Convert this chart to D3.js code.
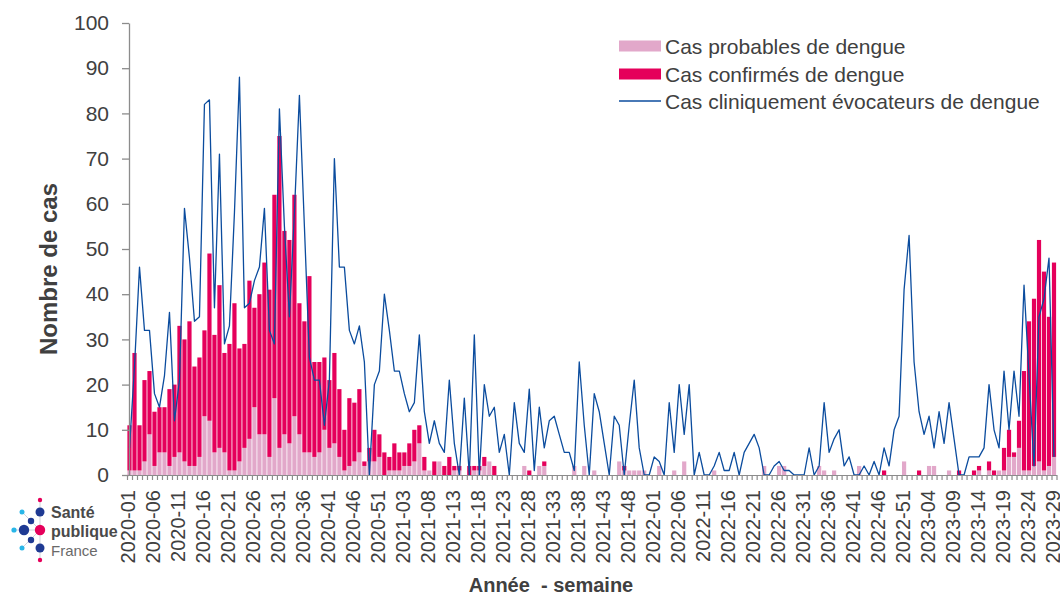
<!DOCTYPE html>
<html>
<head>
<meta charset="utf-8">
<script src="https://cdn.jsdelivr.net/npm/d3@7"></script>
<style>
  body { margin: 0; background: #fff; }
  svg { font-family: "Liberation Sans", Arial, sans-serif; }
</style>
</head>
<body>
<div id="chart"></div>
<script>
// weeks per year shown (ISO weeks)
const annees = [2020, 2021, 2022, 2023];
const nbSemaines = [53, 52, 52, 29];

// Cas probables de dengue (pink, bottom of stack)
const probables = [
  1, 1, 1, 3, 9, 2, 5, 5, 2, 4,
  5, 3, 2, 2, 4, 13, 12, 5, 6, 5,
  1, 1, 3, 6, 8, 15, 9, 9, 4, 17,
  6, 9, 7, 13, 9, 5, 5, 4, 5, 10,
  6, 7, 4, 1, 2, 3, 5, 2, 3, 3,
  4, 0, 1, 1, 1, 2, 2, 3, 7, 1,
  1, 0, 3, 0, 0, 1, 1, 0, 0, 1,
  1, 2, 3, 0, 0, 0, 0, 0, 0, 2,
  0, 0, 2, 2, 0, 0, 0, 0, 0, 2,
  0, 2, 0, 1, 0, 0, 0, 0, 3, 1,
  1, 1, 1, 1, 0, 0, 2, 0, 0, 1,
  0, 3, 0, 0, 0, 0, 0, 1, 0, 0,
  0, 0, 0, 0, 0, 0, 0, 2, 0, 0,
  2, 2, 0, 0, 0, 0, 0, 0, 2, 1,
  0, 1, 0, 0, 0, 0, 2, 0, 0, 0,
  0, 0, 0, 0, 0, 3, 0, 0, 0, 0,
  2, 2, 0, 0, 1, 0, 0, 0, 0, 0,
  1, 0, 1, 0, 1, 1, 4, 4, 6, 1,
  1, 2, 3, 1, 2, 4
];

// Cas confirmés de dengue (red, stacked on top)
const confirmes = [
  10, 26, 10, 18, 14, 12, 10, 10, 17, 16,
  28, 27, 32, 22, 22, 19, 37, 26, 36, 22,
  28, 37, 25, 23, 35, 22, 31, 38, 37, 45,
  69, 45, 45, 49, 29, 29, 39, 21, 20, 16,
  15, 20, 15, 9, 15, 13, 14, 1, 3, 7,
  5, 5, 3, 6, 4, 3, 5, 7, 4, 3,
  0, 3, 0, 2, 4, 1, 1, 0, 2, 1,
  1, 2, 0, 2, 0, 0, 0, 0, 0, 0,
  1, 0, 0, 1, 0, 0, 0, 0, 0, 0,
  0, 0, 0, 0, 0, 0, 0, 0, 0, 1,
  0, 0, 0, 0, 0, 0, 0, 0, 0, 0,
  0, 0, 0, 0, 0, 0, 0, 0, 0, 0,
  0, 0, 0, 0, 0, 0, 0, 0, 0, 0,
  0, 0, 0, 0, 0, 0, 0, 0, 0, 0,
  0, 0, 0, 0, 0, 0, 0, 0, 0, 0,
  0, 1, 0, 0, 0, 0, 0, 0, 1, 0,
  0, 0, 0, 0, 0, 0, 1, 0, 0, 1,
  1, 0, 2, 1, 0, 5, 6, 1, 6, 22,
  33, 37, 49, 44, 33, 43
];

// Cas cliniquement évocateurs de dengue (blue line)
const cliniques = [
  6, 24, 46, 32, 32, 18, 15, 22, 36, 12,
  21, 59, 48, 34, 35, 82, 83, 37, 71, 29,
  33, 58, 88, 37, 38, 43, 46, 59, 32, 29,
  81, 55, 35, 58, 84, 55, 26, 21, 21, 11,
  21, 70, 46, 46, 32, 29, 33, 25, 0, 20,
  23, 40, 32, 23, 23, 18, 14, 16, 31, 14,
  7, 12, 7, 5, 21, 7, 0, 17, 0, 31,
  0, 20, 13, 15, 5, 9, 0, 16, 7, 5,
  19, 1, 15, 6, 12, 13, 9, 5, 5, 1,
  25, 11, 0, 18, 14, 7, 0, 13, 11, 0,
  11, 21, 6, 0, 0, 4, 3, 0, 16, 5,
  20, 9, 20, 0, 5, 0, 0, 2, 5, 1,
  1, 5, 0, 5, 7, 9, 6, 0, 0, 2,
  3, 1, 1, 0, 0, 0, 6, 0, 2, 16,
  5, 8, 10, 2, 4, 0, 0, 2, 0, 3,
  0, 6, 2, 10, 13, 41, 53, 25, 14, 9,
  13, 6, 14, 7, 16, 8, 0, 0, 4, 4,
  4, 6, 20, 10, 6, 23, 10, 23, 13, 42,
  22, 2, 35, 39, 48, 4
];

const yTicks = [0, 10, 20, 30, 40, 50, 60, 70, 80, 90, 100];
const legendLabels = ['Cas probables de dengue', 'Cas confirmés de dengue', 'Cas cliniquement évocateurs de dengue'];

// category labels "AAAA-SS"
const semaines = [];
annees.forEach((a, k) => {
  for (let s = 1; s <= nbSemaines[k]; s++) semaines.push(a + '-' + String(s).padStart(2, '0'));
});
const tickLabels = semaines.filter((d, i) => i % 5 === 0);

const data = semaines.map((s, i) => ({
  sem: s, prob: probables[i], conf: confirmes[i], clin: cliniques[i]
}));

const width = 1060, height = 597;
const plotLeft = 127, plotRight = 1056.5, plotTop = 23, plotBottom = 475;
const gris = '#8c8c8c', texte = '#404040';
const rose = '#e2a8ca', rouge = '#e5005b', bleu = '#0b4c9e';

const svg = d3.select('#chart').append('svg')
  .attr('width', width).attr('height', height);

const x = d3.scaleBand().domain(semaines).range([plotLeft, plotRight])
  .paddingInner(0.16).paddingOuter(0.08);
const y = d3.scaleLinear().domain([0, 100]).range([plotBottom, plotTop]);

// stacked bars
svg.append('g').selectAll('rect.prob')
  .data(data.filter(d => d.prob > 0))
  .enter().append('rect')
  .attr('class', 'prob')
  .attr('x', d => x(d.sem))
  .attr('width', x.bandwidth())
  .attr('y', d => y(d.prob))
  .attr('height', d => y(0) - y(d.prob))
  .attr('fill', rose);

svg.append('g').selectAll('rect.conf')
  .data(data.filter(d => d.conf > 0))
  .enter().append('rect')
  .attr('class', 'conf')
  .attr('x', d => x(d.sem))
  .attr('width', x.bandwidth())
  .attr('y', d => y(d.prob + d.conf))
  .attr('height', d => y(d.prob) - y(d.prob + d.conf))
  .attr('fill', rouge);

// line
const line = d3.line()
  .x(d => x(d.sem) + x.bandwidth() / 2)
  .y(d => y(d.clin));
svg.append('path')
  .datum(data)
  .attr('d', line)
  .attr('fill', 'none')
  .attr('stroke', bleu)
  .attr('stroke-width', 1.3)
  .attr('stroke-linejoin', 'round');

// y axis
const yAxis = svg.append('g')
  .attr('transform', 'translate(' + (plotLeft + 2) + ',0)')
  .call(d3.axisLeft(y).tickValues(yTicks).tickSize(7).tickPadding(13).tickSizeOuter(0));
yAxis.selectAll('path, line').attr('stroke', gris).attr('stroke-width', 1.3);
yAxis.selectAll('text').attr('fill', texte).style('font-size', '21px');

// x axis: small tick at every week boundary
const xb = d3.scaleLinear().domain([0, semaines.length]).range([plotLeft, plotRight]);
const xAxisTicks = svg.append('g')
  .attr('transform', 'translate(0,' + plotBottom + ')')
  .call(d3.axisBottom(xb).tickValues(d3.range(0, semaines.length + 1)).tickSize(5).tickFormat('').tickSizeOuter(0));
xAxisTicks.selectAll('path, line').attr('stroke', gris).attr('stroke-width', 1.2);

// x axis labels every 5 weeks
const xAxis = svg.append('g')
  .attr('transform', 'translate(0,' + plotBottom + ')')
  .call(d3.axisBottom(x).tickValues(tickLabels).tickSize(0));
xAxis.select('.domain').remove();
xAxis.selectAll('text')
  .attr('transform', 'rotate(-90)')
  .attr('text-anchor', 'end')
  .attr('x', -15)
  .attr('y', 0)
  .attr('dy', '0.3em')
  .attr('fill', texte)
  .style('font-size', '20px');

// axis titles
svg.append('text')
  .attr('transform', 'translate(57,269) rotate(-90)')
  .attr('text-anchor', 'middle')
  .attr('fill', texte)
  .style('font-size', '24px').style('font-weight', 'bold')
  .text('Nombre de cas');

svg.append('text')
  .attr('x', 551).attr('y', 592)
  .attr('text-anchor', 'middle')
  .attr('fill', texte)
  .style('font-size', '20px').style('font-weight', 'bold')
  .style('white-space', 'pre')
  .text('Année  - semaine');

// legend
const legend = svg.append('g').attr('transform', 'translate(619,0)');
const rowsY = [46, 74, 101];
legendLabels.forEach((lab, i) => {
  if (i < 2) {
    legend.append('rect')
      .attr('x', 0).attr('y', rowsY[i] - 5.5)
      .attr('width', 42).attr('height', 11)
      .attr('fill', i === 0 ? rose : rouge);
  } else {
    legend.append('line')
      .attr('x1', 0).attr('x2', 42)
      .attr('y1', rowsY[i]).attr('y2', rowsY[i])
      .attr('stroke', bleu).attr('stroke-width', 1.3);
  }
  legend.append('text')
    .attr('x', 46).attr('y', rowsY[i] + 7.5)
    .attr('fill', texte)
    .style('font-size', '21px')
    .text(lab);
});

// Santé publique France logo
const logo = svg.append('g');
const dots = [
  [40, 500, 2.2, '#e5005b'],
  [40, 512, 4.5, '#1f3a93'],
  [22, 512, 2.5, '#29b6e8'],
  [31, 521, 3.2, '#1f3a93'],
  [14, 530, 2.6, '#29b6e8'],
  [24, 530, 5.2, '#1f3a93'],
  [40, 530, 5.2, '#e5005b'],
  [31, 540, 3.2, '#1f3a93'],
  [22, 548, 2.5, '#29b6e8'],
  [40, 548, 4.5, '#1f3a93'],
  [40, 560, 2.2, '#e5005b']
];
logo.selectAll('line').data([[40, 500, 40, 560], [14, 530, 40, 530], [22, 512, 40, 530], [22, 548, 40, 530]])
  .enter().append('line')
  .attr('x1', d => d[0]).attr('y1', d => d[1]).attr('x2', d => d[2]).attr('y2', d => d[3])
  .attr('stroke', '#cfd3dc').attr('stroke-width', 1);
logo.selectAll('circle').data(dots).enter().append('circle')
  .attr('cx', d => d[0]).attr('cy', d => d[1]).attr('r', d => d[2]).attr('fill', d => d[3]);
logo.append('text').attr('x', 51).attr('y', 518).attr('fill', '#4a4a4a')
  .style('font-size', '16px').style('font-weight', 'bold').text('Santé');
logo.append('text').attr('x', 51).attr('y', 537).attr('fill', '#4a4a4a')
  .style('font-size', '16px').style('font-weight', 'bold').text('publique');
logo.append('text').attr('x', 51).attr('y', 556).attr('fill', '#6a6a6a')
  .style('font-size', '15px').text('France');
</script>
</body>
</html>
